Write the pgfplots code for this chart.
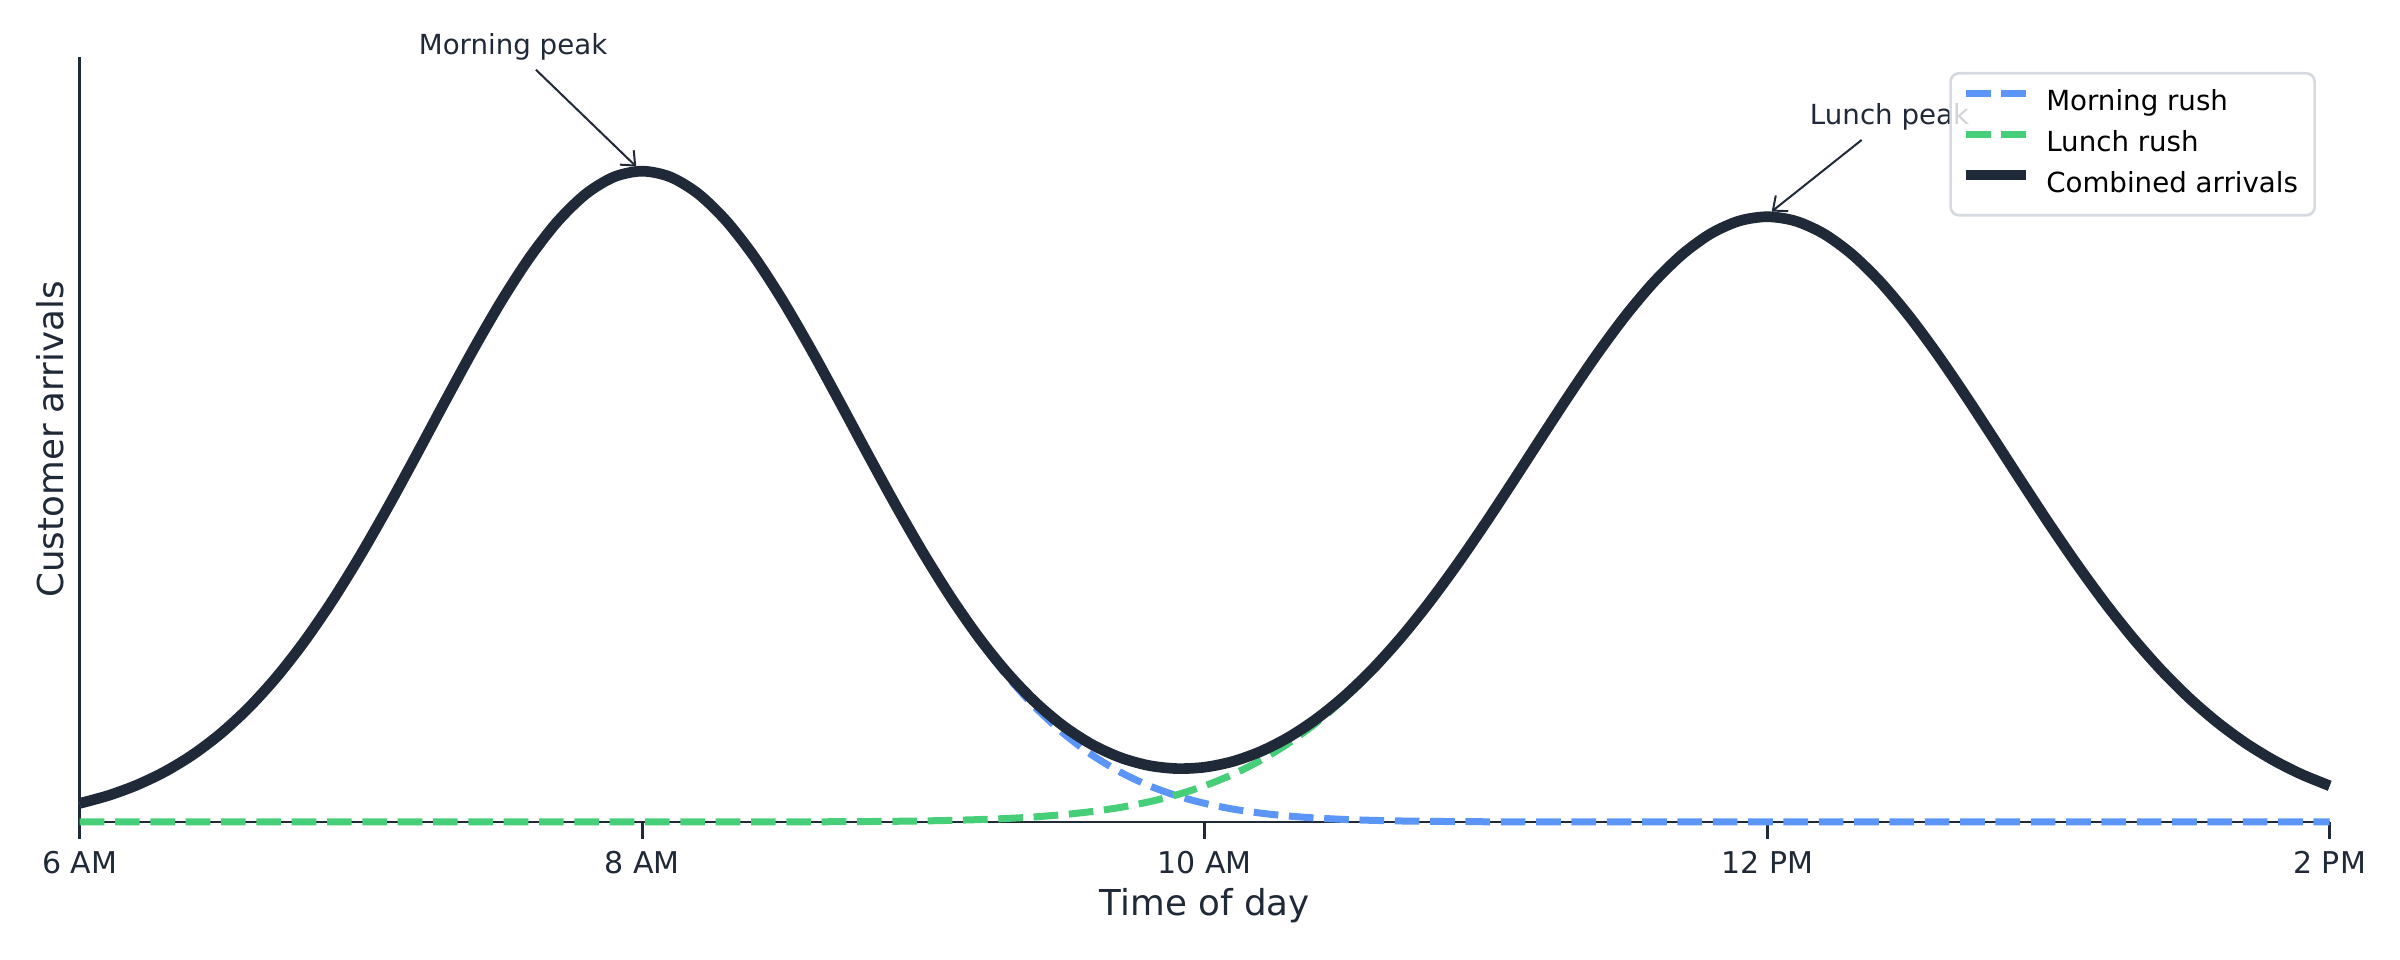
\documentclass[border=0pt]{standalone}
\usepackage{fontspec}
\setmainfont{DejaVu Sans}
\usepackage{pgfplots}
\pgfplotsset{compat=1.18}
\usepackage{pgfplotstable}
\usetikzlibrary{arrows.meta}

\definecolor{morning}{HTML}{5B96F7}
\definecolor{lunch}{HTML}{46CE78}
\definecolor{ink}{HTML}{1F2937}
\definecolor{frame}{HTML}{D6DAE0}

% hour, morning rush, lunch rush, combined
\pgfplotstableread{
x m l c
6.0 2.857 0 2.857
6.1 4.040 0 4.040
6.2 5.614 0 5.614
6.3 7.662 0 7.662
6.4 10.274 0 10.274
6.5 13.534 0 13.534
6.6 17.513 0 17.513
6.7 22.264 0 22.264
6.8 27.804 0 27.804
6.9 34.111 0 34.111
7.0 41.111 0 41.111
7.1 48.675 0 48.675
7.2 56.616 0 56.616
7.3 64.691 0 64.691
7.4 72.615 0 72.615
7.5 80.074 0 80.074
7.6 86.743 0 86.743
7.7 92.312 0 92.312
7.8 96.507 0 96.507
7.9 99.115 0 99.115
8.0 100.000 0 100.000
8.1 99.115 0 99.115
8.2 96.507 0 96.507
8.3 92.312 0 92.312
8.4 86.743 0.010 86.753
8.5 80.074 0.017 80.091
8.6 72.615 0.027 72.642
8.7 64.691 0.043 64.734
8.8 56.616 0.069 56.685
8.9 48.675 0.107 48.782
9.0 41.111 0.165 41.276
9.1 34.111 0.249 34.360
9.2 27.804 0.372 28.176
9.3 22.264 0.548 22.812
9.4 17.513 0.796 18.309
9.5 13.534 1.140 14.674
9.6 10.274 1.610 11.884
9.7 7.662 2.241 9.903
9.8 5.614 3.077 8.691
9.9 4.040 4.165 8.205
10.0 2.857 5.560 8.417
10.1 1.984 7.318 9.302
10.2 1.354 9.496 10.850
10.3 0.908 12.150 13.058
10.4 0.598 15.328 15.926
10.5 0.387 19.070 19.457
10.6 0.246 23.390 23.636
10.7 0.153 28.290 28.443
10.8 0.094 33.734 33.828
10.9 0.057 39.666 39.723
11.0 0.034 45.987 46.021
11.1 0.020 52.573 52.593
11.2 0.011 59.259 59.270
11.3 0.006 65.860 65.866
11.4 0 72.175 72.175
11.5 0 77.987 77.987
11.6 0 83.090 83.090
11.7 0 87.289 87.289
11.8 0 90.416 90.416
11.9 0 92.347 92.347
12.0 0 93.000 93.000
12.1 0 92.347 92.347
12.2 0 90.416 90.416
12.3 0 87.289 87.289
12.4 0 83.090 83.090
12.5 0 77.987 77.987
12.6 0 72.175 72.175
12.7 0 65.860 65.860
12.8 0 59.259 59.259
12.9 0 52.573 52.573
13.0 0 45.987 45.987
13.1 0 39.666 39.666
13.2 0 33.734 33.734
13.3 0 28.290 28.290
13.4 0 23.390 23.390
13.5 0 19.070 19.070
13.6 0 15.328 15.328
13.7 0 12.150 12.150
13.8 0 9.496 9.496
13.9 0 7.318 7.318
14.0 0 5.560 5.560
}\arrivals

\begin{document}
\begin{tikzpicture}
\begin{axis}[
    name=ax,
    scale only axis,
    width=675pt, height=229.6pt,
    xmin=6, xmax=14, ymin=0, ymax=117.6,
    axis x line*=bottom, axis y line*=left,
    axis line style={-, ink, line width=0.8pt},
    xtick={6,8,10,12,14},
    xticklabels={6 AM,8 AM,10 AM,12 PM,2 PM},
    ytick=\empty,
    xmajorticks=true,
    xtick align=outside,
    major tick length=5pt,
    xtick style={draw=ink, line width=0.8pt, solid},
    xticklabel style={font=\fontsize{9}{11}\selectfont, text=ink, anchor=base, yshift=-10.5pt},
    xlabel={Time of day},
    ylabel={Customer arrivals},
    xlabel style={font=\fontsize{10.7}{13}\selectfont, text=ink, at={(axis description cs:0.5,-0.1228)}, anchor=base},
    ylabel style={font=\fontsize{10.7}{13}\selectfont, text=ink, at={(axis description cs:-0.0129,0.5)}, anchor=center},
    clip=false,
    legend cell align=left,
    legend image code/.code={\draw[#1] (0pt,3pt) -- (18pt,3pt);},
    legend style={
        at={(rel axis cs:0.9939,0.980)}, anchor=north east,
        draw=frame, line width=0.8pt, rounded corners=2.5pt,
        fill=white, fill opacity=0.8, text opacity=1,
        font=\fontsize{8.3}{10}\selectfont, text=black,
        inner xsep=3pt, inner ysep=3pt,
        column sep=2.5pt,
        nodes={inner xsep=2pt, inner ysep=2pt, text height=6.3pt, text depth=1.9pt},
    },
]
\addplot[morning, smooth, line width=2.1pt, dash pattern=on 7.4pt off 3.2pt] table[x=x, y=m] {\arrivals};
\addlegendentry{Morning rush}
\addplot[lunch, smooth, line width=2.1pt, dash pattern=on 7.4pt off 3.2pt] table[x=x, y=l] {\arrivals};
\addlegendentry{Lunch rush}
\addplot[ink, smooth, line width=3.2pt, line join=round] table[x=x, y=c] {\arrivals};
\addlegendentry{Combined arrivals}

\node[font=\fontsize{8.3}{10}\selectfont, text=ink, anchor=base] at (axis cs:7.541,117.9) {Morning peak};
\draw[ink, line width=0.6pt, -{Straight Barb[length=3.5pt, width=6pt]}] (axis cs:7.622,115.6) -- (axis cs:7.979,100.7);
\node[font=\fontsize{8.3}{10}\selectfont, text=ink, anchor=base] at (axis cs:12.435,107.1) {Lunch peak};
\draw[ink, line width=0.6pt, -{Straight Barb[length=3.5pt, width=6pt]}] (axis cs:12.336,104.8) -- (axis cs:12.016,93.8);
\end{axis}
\path ([xshift=-23.9pt,yshift=-41.3pt]ax.south west) rectangle ([xshift=21.1pt,yshift=17pt]ax.north east);
\end{tikzpicture}
\end{document}
